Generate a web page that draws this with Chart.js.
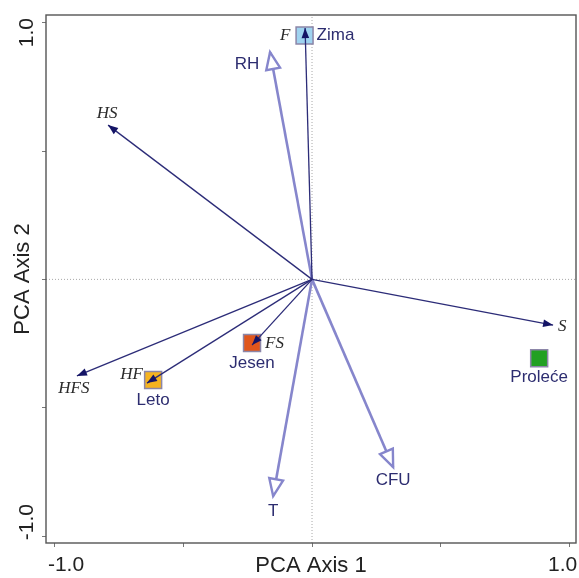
<!DOCTYPE html>
<html><head><meta charset="utf-8">
<script src="https://cdn.jsdelivr.net/npm/chart.js@4.4.0/dist/chart.umd.min.js"></script>
<style>html,body{margin:0;padding:0;background:#fff;overflow:hidden}</style>
</head><body>
<canvas id="c" width="579" height="578" style="display:block;width:579px;height:578px"></canvas>
<script>
// ---- data ----
const sampleNames = ['Zima', 'Leto', 'Jesen', 'Proleće'];
const sampleX = [-0.029, -0.617, -0.233, 0.882];
const sampleY = [0.950, -0.392, -0.248, -0.307];
const sampleColors = ['#9fd3f0', '#f5b320', '#e0561c', '#22a022'];

const varNames = ['F', 'HS', 'S', 'HFS', 'HF', 'FS'];
const varX = [-0.027, -0.792, 0.936, -0.913, -0.641, -0.233];
const varY = [0.979, 0.601, -0.178, -0.376, -0.404, -0.256];

const suppNames = ['RH', 'T', 'CFU'];
const suppX = [-0.163, -0.151, 0.315];
const suppY = [0.885, -0.844, -0.731];

const xTickValues = [-1, -0.5, 0, 0.5, 1];
const yTickValues = [-1, -0.5, 0, 0.5, 1];
const xTickLabels = ['-1.0', '', '', '', '1.0'];
const yTickLabels = ['-1.0', '', '', '', '1.0'];
const xTitle = 'PCA Axis 1';
const yTitle = 'PCA Axis 2';
const xRange = [-1.033, 1.025];
const yRange = [-1.027, 1.03];

// ---- styles (pixel offsets for labels) ----
const labelStyle = {
  F:   {dx: -20, dy: 7,  align: 'center', kind: 'serif'},
  HS:  {dx: -1,  dy: -12, align: 'center', kind: 'serif'},
  S:   {dx: 5,   dy: 1,  align: 'left',   kind: 'serif'},
  HFS: {dx: -3,  dy: 13, align: 'center', kind: 'serif'},
  HF:  {dx: -4,  dy: -9, align: 'right',  kind: 'serif'},
  FS:  {dx: 13,  dy: -2, align: 'left',   kind: 'serif'},
  RH:  {dx: -23, dy: 12, align: 'center', kind: 'sans'},
  T:   {dx: 0,   dy: 15, align: 'center', kind: 'sans'},
  CFU: {dx: 0,   dy: 13, align: 'center', kind: 'sans'},
  'Zima':    {dx: 12, dy: 0,  align: 'left',   kind: 'sans'},
  'Leto':    {dx: 0,  dy: 20, align: 'center', kind: 'sans'},
  'Jesen':   {dx: 0,  dy: 20, align: 'center', kind: 'sans'},
  'Proleće': {dx: 0,  dy: 19, align: 'center', kind: 'sans'}
};
const DARK = '#2c2c78';
const DARK_HEAD = '#141466';
const LIGHT = '#8686cc';
const TEXT_NAVY = '#2d2d70';
const SANS = '"Liberation Sans", Arial, sans-serif';
const SERIF = '"Liberation Serif", "Times New Roman", serif';

// ---- datasets ----
const datasets = [];
varNames.forEach((n, i) => {
  datasets.push({
    label: n, kind: 'var', type: 'scatter', showLine: true,
    data: [{x: 0, y: 0}, {x: varX[i], y: varY[i]}],
    borderColor: DARK, borderWidth: 1.3, pointRadius: 0, order: 1
  });
});
suppNames.forEach((n, i) => {
  datasets.push({
    label: n, kind: 'supp', type: 'scatter', showLine: true,
    data: [{x: 0, y: 0}, {x: suppX[i], y: suppY[i]}],
    borderColor: LIGHT, borderWidth: 2.6, pointRadius: 0, order: 2
  });
});
sampleNames.forEach((n, i) => {
  datasets.push({
    label: n, kind: 'sample', type: 'scatter',
    data: [{x: sampleX[i], y: sampleY[i]}],
    pointStyle: 'rect', pointRadius: 12, backgroundColor: sampleColors[i],
    borderColor: '#8c86a8', borderWidth: 1.5, order: 3
  });
});
datasets.push({
  label: 'zeroX', kind: 'zero', type: 'scatter', showLine: true,
  data: [{x: xRange[0], y: 0}, {x: xRange[1], y: 0}],
  borderColor: '#a8a8a8', borderWidth: 1, borderDash: [1, 2], pointRadius: 0, order: 4
});
datasets.push({
  label: 'zeroY', kind: 'zero', type: 'scatter', showLine: true,
  data: [{x: 0, y: yRange[0]}, {x: 0, y: yRange[1]}],
  borderColor: '#a8a8a8', borderWidth: 1, borderDash: [1, 2], pointRadius: 0, order: 4
});

function head(ctx, x0, y0, x1, y1, len, half) {
  const a = Math.atan2(y1 - y0, x1 - x0);
  const bx = x1 - len * Math.cos(a), by = y1 - len * Math.sin(a);
  const px = -Math.sin(a) * half, py = Math.cos(a) * half;
  ctx.beginPath();
  ctx.moveTo(x1, y1);
  ctx.lineTo(bx + px, by + py);
  ctx.lineTo(bx - px, by - py);
  ctx.closePath();
}

const decor = {
  id: 'decor',
  afterDatasetsDraw(chart) {
    const ctx = chart.ctx;
    const ca = chart.chartArea;
    ctx.save();
    // frame
    ctx.strokeStyle = '#555';
    ctx.lineWidth = 1.4;
    ctx.strokeRect(ca.left, ca.top, ca.right - ca.left, ca.bottom - ca.top);
    // arrowheads
    chart.data.datasets.forEach((ds, i) => {
      const meta = chart.getDatasetMeta(i);
      if (ds.kind === 'var' || ds.kind === 'supp') {
        const p0 = meta.data[0], p1 = meta.data[1];
        if (ds.kind === 'var') {
          head(ctx, p0.x, p0.y, p1.x, p1.y, 10, 3.8);
          ctx.fillStyle = DARK_HEAD; ctx.fill();
        } else {
          head(ctx, p0.x, p0.y, p1.x, p1.y, 17, 7);
          ctx.fillStyle = '#fff'; ctx.fill();
          ctx.lineWidth = 2.4; ctx.lineJoin = 'miter';
          ctx.strokeStyle = LIGHT; ctx.stroke();
        }
      }
    });
    // labels
    chart.data.datasets.forEach((ds, i) => {
      if (!labelStyle[ds.label]) return;
      const meta = chart.getDatasetMeta(i);
      const p = meta.data[meta.data.length - 1];
      const st = labelStyle[ds.label];
      ctx.textAlign = st.align;
      ctx.textBaseline = 'middle';
      if (st.kind === 'serif') {
        ctx.font = 'italic 17px ' + SERIF;
        ctx.fillStyle = '#2a2a2a';
      } else {
        ctx.font = '17px ' + SANS;
        ctx.fillStyle = TEXT_NAVY;
      }
      ctx.fillText(ds.label, p.x + st.dx, p.y + st.dy);
    });
    // tick labels
    const xs = chart.scales.x, ys = chart.scales.y;
    ctx.font = '21px ' + SANS;
    ctx.fillStyle = '#222';
    ctx.textBaseline = 'middle';
    ctx.textAlign = 'center';
    xTickValues.forEach((v, k) => {
      const t = xTickLabels[k]; if (!t) return;
      const px = xs.getPixelForValue(v);
      const shift = v < 0 ? 11.5 : -7;
      ctx.fillText(t, px + shift, ca.bottom + 22);
    });
    yTickValues.forEach((v, k) => {
      const t = yTickLabels[k]; if (!t) return;
      const py = ys.getPixelForValue(v);
      const shift = v < 0 ? -14 : 10;
      ctx.save();
      ctx.translate(ca.left - 19, py + shift);
      ctx.rotate(-Math.PI / 2);
      ctx.fillText(t, 0, 0);
      ctx.restore();
    });
    ctx.restore();
  }
};

new Chart(document.getElementById('c'), {
  type: 'scatter',
  data: {datasets},
  options: {
    responsive: false,
    animation: false,
    events: [],
    layout: {autoPadding: false, padding: {top: 15, right: 3, left: 0, bottom: 0}},
    plugins: {legend: {display: false}, tooltip: {enabled: false}},
    scales: {
      x: {
        type: 'linear', min: xRange[0], max: xRange[1],
        afterBuildTicks: s => { s.ticks = xTickValues.map(v => ({value: v})); },
        afterFit: s => { s.height = 35; },
        ticks: {display: false},
        grid: {display: true, drawOnChartArea: false, drawTicks: true, tickLength: 4, color: '#777', lineWidth: 1},
        border: {display: false},
        title: {display: true, text: xTitle, font: {size: 22, family: SANS}, color: '#222', padding: {top: 0, bottom: -1}}
      },
      y: {
        type: 'linear', min: yRange[0], max: yRange[1],
        afterBuildTicks: s => { s.ticks = yTickValues.map(v => ({value: v})); },
        afterFit: s => { s.width = 46; },
        ticks: {display: false},
        grid: {display: true, drawOnChartArea: false, drawTicks: true, tickLength: 4, color: '#777', lineWidth: 1},
        border: {display: false},
        title: {display: true, text: yTitle, font: {size: 22, family: SANS}, color: '#222', padding: {top: 10, bottom: 0}}
      }
    }
  },
  plugins: [decor]
});
</script>
</body></html>
